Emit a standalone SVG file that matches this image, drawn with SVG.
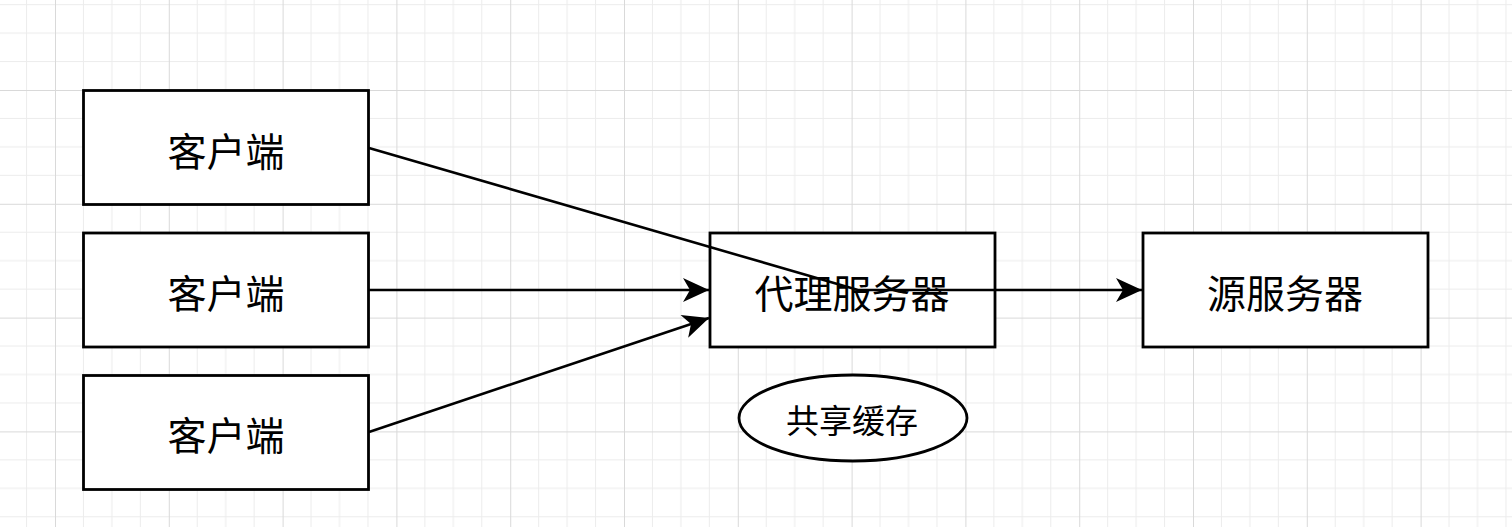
<svg xmlns="http://www.w3.org/2000/svg" width="1512" height="527" viewBox="0 0 1512 527">
  <defs>
    <pattern id="grid" x="55" y="90" width="113.8" height="113.8" patternUnits="userSpaceOnUse">
      <path d="M28.45,0V113.8M56.9,0V113.8M85.35,0V113.8M0,28.45H113.8M0,56.9H113.8M0,85.35H113.8" stroke="#ececec" stroke-width="1" fill="none"/>
      <path d="M0.5,0V113.8M0,0.5H113.8" stroke="#d9d9d9" stroke-width="1" fill="none"/>
    </pattern>
    <marker id="arrow" markerUnits="userSpaceOnUse" markerWidth="30" markerHeight="30" viewBox="-28 -14 30 28" refX="0" refY="0" orient="auto">
      <path d="M0,0 L-26,-12 L-19,0 L-26,12 Z" fill="#000"/>
    </marker>
    <style>
      .box { fill: #fff; stroke: #000; stroke-width: 2.8; }
      .lbl { font-family: "Noto Sans CJK SC", "Noto Sans", sans-serif; font-size: 39px; font-weight: 400; fill: #000; text-anchor: middle; dominant-baseline: central; }
      .small { font-size: 33px; }
      .edge { fill: none; stroke: #000; stroke-width: 2.6; marker-end: url(#arrow); }
    </style>
  </defs>
  <rect width="1512" height="527" fill="#fff"/>
  <rect width="1512" height="527" fill="url(#grid)"/>

  <g id="client1">
    <rect class="box" x="83.5" y="90.5" width="285" height="114"/>
    <text class="lbl" x="226" y="149">客户端</text>
  </g>
  <g id="client2">
    <rect class="box" x="83.5" y="233" width="285" height="114"/>
    <text class="lbl" x="226" y="291">客户端</text>
  </g>
  <g id="client3">
    <rect class="box" x="83.5" y="375.5" width="285" height="114"/>
    <text class="lbl" x="226" y="433">客户端</text>
  </g>
  <g id="proxy">
    <rect class="box" x="710" y="233" width="285" height="114"/>
    <text class="lbl" x="852" y="291">代理服务器</text>
  </g>
  <g id="origin">
    <rect class="box" x="1143" y="233" width="285" height="114"/>
    <text class="lbl" x="1285" y="291">源服务器</text>
  </g>
  <g id="cache">
    <ellipse class="box" cx="853" cy="418" rx="114" ry="43"/>
    <text class="lbl small" x="852" y="419">共享缓存</text>
  </g>

  <g id="connectors">
    <polyline class="edge" points="369,148 858,290 1142,290"/>
    <line class="edge" x1="369" y1="290" x2="709" y2="290"/>
    <line class="edge" x1="369" y1="432" x2="709" y2="318"/>
  </g>
</svg>
